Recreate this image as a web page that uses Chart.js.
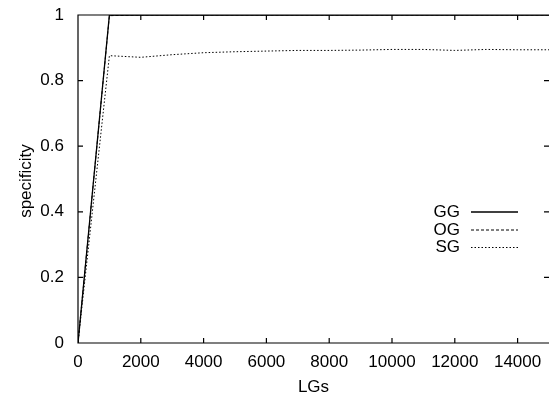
<!DOCTYPE html>
<html>
<head>
<meta charset="utf-8">
<script src="https://cdn.jsdelivr.net/npm/chart.js@4/dist/chart.umd.min.js"></script>
<style>
  html, body { margin: 0; padding: 0; background: #fff; }
  #wrap { width: 549px; height: 401px; position: relative; }
</style>
</head>
<body>
<div id="wrap"><canvas id="chart"></canvas></div>
<script>
// data
const lgs = [0, 1000, 2000, 3000, 4000, 5000, 6000, 7000, 8000, 9000, 10000, 11000, 12000, 13000, 14000, 15000];
const ggValues = [0, 1, 1, 1, 1, 1, 1, 1, 1, 1, 1, 1, 1, 1, 1, 1];
const ogValues = [0, 0.998, 1, 1, 1, 1, 1, 1, 1, 1, 1, 1, 1, 1, 1, 1];
const sgValues = [0, 0.876, 0.871, 0.879, 0.885, 0.888, 0.890, 0.892, 0.892, 0.893, 0.895, 0.895, 0.892, 0.895, 0.894, 0.894];
const xTicks = [0, 2000, 4000, 6000, 8000, 10000, 12000, 14000];
const yTicks = [0, 0.2, 0.4, 0.6, 0.8, 1];

const FONT = '"Liberation Sans", Arial, sans-serif';
Chart.defaults.color = '#000';
Chart.defaults.font.family = FONT;
Chart.defaults.font.size = 17;

function pts(values) {
    return lgs.map((x, i) => ({ x: x, y: values[i] }));
}

// gnuplot style frame, inward ticks on all sides, axis titles and key
const gnuFrame = {
    id: 'gnuFrame',
    afterDraw(chart) {
        const ctx = chart.ctx;
        const a = chart.chartArea;
        const xs = chart.scales.x;
        const ys = chart.scales.y;
        const tl = 5;
        ctx.save();
        ctx.strokeStyle = '#000';
        ctx.lineWidth = 1.2;
        ctx.beginPath();
        ctx.moveTo(a.right, a.top);
        ctx.lineTo(a.left, a.top);
        ctx.lineTo(a.left, a.bottom);
        ctx.lineTo(a.right, a.bottom);
        xTicks.forEach(v => {
            const px = xs.getPixelForValue(v);
            ctx.moveTo(px, a.bottom); ctx.lineTo(px, a.bottom - tl);
            ctx.moveTo(px, a.top); ctx.lineTo(px, a.top + tl);
        });
        yTicks.forEach(v => {
            const py = ys.getPixelForValue(v);
            ctx.moveTo(a.left, py); ctx.lineTo(a.left + tl, py);
            ctx.moveTo(a.right, py); ctx.lineTo(a.right - tl, py);
        });
        ctx.stroke();

        // axis titles
        ctx.fillStyle = '#000';
        ctx.font = '17px ' + FONT;
        ctx.textAlign = 'center';
        ctx.textBaseline = 'middle';
        ctx.fillText('LGs', (a.left + a.right) / 2, 387);
        ctx.save();
        ctx.translate(26, (a.top + a.bottom) / 2 + 2);
        ctx.rotate(-Math.PI / 2);
        ctx.fillText('specificity', 0, 0);
        ctx.restore();

        // key
        const rows = [212, 230, 247.5];
        chart.data.datasets.forEach((ds, i) => {
            ctx.textAlign = 'right';
            ctx.fillText(ds.label, 460, rows[i]);
            ctx.beginPath();
            ctx.lineWidth = ds.borderWidth;
            ctx.setLineDash(ds.borderDash || []);
            ctx.moveTo(471, rows[i]);
            ctx.lineTo(518, rows[i]);
            ctx.stroke();
            ctx.setLineDash([]);
        });
        ctx.restore();
    }
};

new Chart(document.getElementById('chart'), {
    type: 'line',
    data: {
        datasets: [
            { label: 'GG', data: pts(ggValues), borderColor: '#000', borderWidth: 1.3, pointRadius: 0, tension: 0 },
            { label: 'OG', data: pts(ogValues), borderColor: '#000', borderWidth: 1, borderDash: [3, 2], pointRadius: 0, tension: 0 },
            { label: 'SG', data: pts(sgValues), borderColor: '#000', borderWidth: 1, borderDash: [1.5, 2], pointRadius: 0, tension: 0 }
        ]
    },
    options: {
        responsive: true,
        maintainAspectRatio: false,
        animation: false,
        layout: { padding: { top: 15, right: 0, bottom: 0, left: 0 } },
        plugins: { legend: { display: false }, tooltip: { enabled: false } },
        scales: {
            x: {
                type: 'linear',
                min: 0,
                max: 15000,
                grid: { display: false, drawTicks: false },
                border: { display: false },
                afterBuildTicks: s => { s.ticks = xTicks.map(v => ({ value: v })); },
                afterFit: s => { s.height = 58; s.paddingLeft = 0; s.paddingRight = 0; },
                ticks: { padding: 9, maxRotation: 0, autoSkip: false, callback: v => String(v) }
            },
            y: {
                min: 0,
                max: 1,
                grid: { display: false, drawTicks: false },
                border: { display: false },
                afterBuildTicks: s => { s.ticks = yTicks.map(v => ({ value: v })); },
                afterFit: s => { s.width = 78; s.paddingTop = 0; s.paddingBottom = 0; },
                ticks: { padding: 14, autoSkip: false, callback: v => String(Math.round(v * 10) / 10) }
            }
        }
    },
    plugins: [gnuFrame]
});
</script>
</body>
</html>
